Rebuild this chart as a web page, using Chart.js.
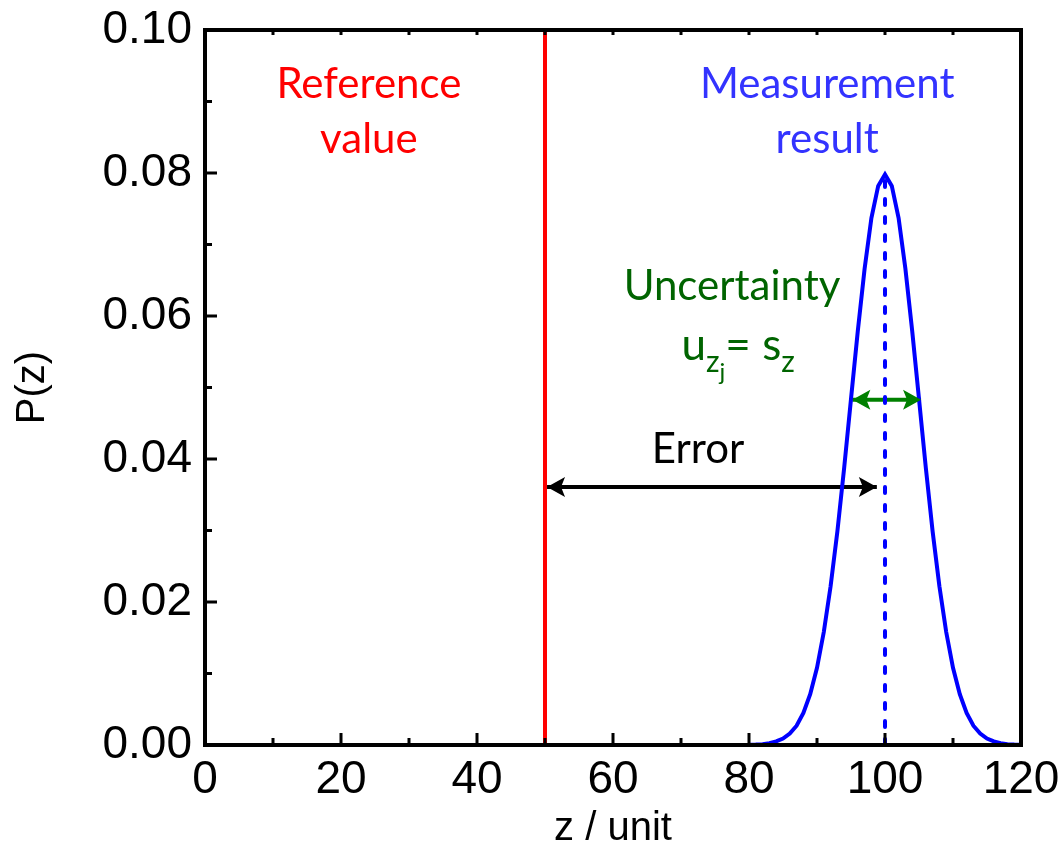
<!DOCTYPE html>
<html>
<head>
<meta charset="utf-8">
<script src="https://cdn.jsdelivr.net/npm/chart.js@4/dist/chart.umd.min.js"></script>
<style>
  html, body { margin: 0; padding: 0; background: #ffffff; }
  #wrap { width: 1063px; height: 853px; }
</style>
</head>
<body>
<div id="wrap"><canvas id="c" width="1063" height="853"></canvas></div>
<script>
// ---------- data ----------
const zValues = [80, 81, 82, 83, 84, 85, 86, 87, 88, 89, 90, 91, 92, 93, 94, 95, 96, 97, 98, 99, 100,
                 101, 102, 103, 104, 105, 106, 107, 108, 109, 110, 111, 112, 113, 114, 115, 116, 117, 118, 119, 120];
const pValues = [0.00003, 0.00006, 0.00012, 0.00025, 0.0005, 0.0009, 0.0016, 0.0027, 0.0045, 0.0071,
                 0.0108, 0.0158, 0.0222, 0.0299, 0.0388, 0.0484, 0.0579, 0.0666, 0.0737, 0.0782,
                 0.0798,
                 0.0782, 0.0737, 0.0666, 0.0579, 0.0484, 0.0388, 0.0299, 0.0222, 0.0158, 0.0108,
                 0.0071, 0.0045, 0.0027, 0.0016, 0.0009, 0.0005, 0.00025, 0.00012, 0.00006, 0.00003];
const referenceLineZ = [50, 50];
const referenceLineP = [0, 0.10];
const meanLineZ = [100, 100];
const meanLineP = [0, 0.0798];
const errorArrowZ = [50.3, 98.8];
const errorArrowP = [0.0361, 0.0361];
const uncertaintyArrowZ = [95.2, 105.3];
const uncertaintyArrowP = [0.0483, 0.0483];

const xTickValues = [0, 20, 40, 60, 80, 100, 120];
const xTickLabels = ['0', '20', '40', '60', '80', '100', '120'];
const xMinorTicks = [10, 30, 50, 70, 90, 110];
const yTickValues = [0, 0.02, 0.04, 0.06, 0.08, 0.10];
const yTickLabels = ['0.00', '0.02', '0.04', '0.06', '0.08', '0.10'];
const yMinorTicks = [0.01, 0.03, 0.05, 0.07, 0.09];

const xTitle = 'z / unit';
const yTitle = 'P(z)';

const toPts = (xs, ys) => xs.map((x, i) => ({ x: x, y: ys[i] }));

// ---------- annotation texts (data coordinates) ----------
const annotationTexts = [
  { text: 'Reference', z: 24.1, p: 0.0905, color: '#ff0000' },
  { text: 'value', z: 24.1, p: 0.0828, color: '#ff0000' },
  { text: 'Measurement', z: 91.5, p: 0.0905, color: '#3333ff' },
  { text: 'result', z: 91.5, p: 0.0828, color: '#3333ff' },
  { text: 'Uncertainty', z: 77.5, p: 0.0622, color: '#006400' },
  { text: 'Error', z: 72.5, p: 0.0394, color: '#000000' }
];
const formulaPos = { z: 78.4, p: 0.0538, color: '#006400' };

const TEXT_FONT = 'Lato, "Open Sans", sans-serif';

const framePlugin = {
  id: 'framePlugin',
  afterDatasetsDraw(chart) {
    const ctx = chart.ctx;
    const xs = chart.scales.x, ys = chart.scales.y;
    const a = chart.chartArea;
    ctx.save();

    // arrow heads
    chart.data.datasets.forEach((ds, i) => {
      if (!ds.arrowHeads) return;
      const pts = chart.getDatasetMeta(i).data;
      const drawHead = (tip, from) => {
        const ang = Math.atan2(tip.y - from.y, tip.x - from.x);
        const L = 18, W = 10, notch = 4;
        ctx.save();
        ctx.translate(tip.x, tip.y);
        ctx.rotate(ang);
        ctx.fillStyle = ds.borderColor;
        ctx.beginPath();
        ctx.moveTo(0, 0);
        ctx.lineTo(-L, -W);
        ctx.lineTo(-L + notch, 0);
        ctx.lineTo(-L, W);
        ctx.closePath();
        ctx.fill();
        ctx.restore();
      };
      drawHead(pts[0], pts[pts.length - 1]);
      drawHead(pts[pts.length - 1], pts[0]);
    });

    // frame
    ctx.strokeStyle = '#000000';
    ctx.lineWidth = 4;
    ctx.lineCap = 'square';
    ctx.strokeRect(a.left, a.top, a.right - a.left, a.bottom - a.top);

    // inward ticks
    ctx.lineWidth = 3;
    ctx.lineCap = 'butt';
    ctx.beginPath();
    xTickValues.forEach(v => {
      const px = xs.getPixelForValue(v);
      if (v > 0 && v < 120) { ctx.moveTo(px, a.bottom); ctx.lineTo(px, a.bottom - 12); }
    });
    xMinorTicks.forEach(v => {
      const px = xs.getPixelForValue(v);
      ctx.moveTo(px, a.bottom); ctx.lineTo(px, a.bottom - 7);
    });
    xTickValues.concat(xMinorTicks).forEach(v => {
      const px = xs.getPixelForValue(v);
      if (v > 0 && v < 120) { ctx.moveTo(px, a.top); ctx.lineTo(px, a.top + 5); }
    });
    yTickValues.forEach(v => {
      const py = ys.getPixelForValue(v);
      if (v > 0 && v < 0.1) { ctx.moveTo(a.left, py); ctx.lineTo(a.left + 12, py); }
    });
    yMinorTicks.forEach(v => {
      const py = ys.getPixelForValue(v);
      ctx.moveTo(a.left, py); ctx.lineTo(a.left + 7, py);
    });
    ctx.stroke();

    // texts
    ctx.textAlign = 'center';
    ctx.textBaseline = 'alphabetic';
    ctx.font = '42px ' + TEXT_FONT;
    annotationTexts.forEach(t => {
      ctx.fillStyle = t.color;
      ctx.fillText(t.text, xs.getPixelForValue(t.z), ys.getPixelForValue(t.p));
    });

    // formula  u_{z_j} = s_z
    const parts = [
      { s: 'u', size: 44, dy: 0 },
      { s: 'z', size: 30, dy: 12 },
      { s: 'j', size: 24, dy: 20 },
      { s: '= s', size: 44, dy: 0 },
      { s: 'z', size: 30, dy: 12 }
    ];
    let total = 0;
    parts.forEach(p => { ctx.font = p.size + 'px ' + TEXT_FONT; p.w = ctx.measureText(p.s).width; total += p.w; });
    let cx = xs.getPixelForValue(formulaPos.z) - total / 2;
    const by = ys.getPixelForValue(formulaPos.p);
    ctx.textAlign = 'left';
    ctx.fillStyle = formulaPos.color;
    parts.forEach(p => {
      ctx.font = p.size + 'px ' + TEXT_FONT;
      ctx.fillText(p.s, cx, by + p.dy);
      cx += p.w;
    });
    ctx.restore();
  }
};

const tickFont = { family: '"Liberation Sans", Arial, sans-serif', size: 46 };
const titleFont = { family: '"Liberation Sans", Arial, sans-serif', size: 40 };

new Chart(document.getElementById('c'), {
  type: 'line',
  data: {
    datasets: [
      { label: 'P(z)', data: toPts(zValues, pValues), borderColor: '#0000ff', borderWidth: 4,
        pointRadius: 0, tension: 0, fill: false },
      { label: 'Reference value', data: toPts(referenceLineZ, referenceLineP), borderColor: '#ff0000',
        borderWidth: 4, pointRadius: 0, fill: false },
      { label: 'Measurement result', data: toPts(meanLineZ, meanLineP), borderColor: '#0000ff',
        borderWidth: 4, borderDash: [6, 12], borderCapStyle: 'round', pointRadius: 0, fill: false },
      { label: 'Error', data: toPts(errorArrowZ, errorArrowP), borderColor: '#000000',
        borderWidth: 4, pointRadius: 0, fill: false, arrowHeads: true },
      { label: 'Uncertainty', data: toPts(uncertaintyArrowZ, uncertaintyArrowP), borderColor: '#008000',
        borderWidth: 4, pointRadius: 0, fill: false, arrowHeads: true }
    ]
  },
  options: {
    responsive: false,
    devicePixelRatio: 1,
    animation: false,
    layout: { padding: { left: 0, top: 30, right: 42, bottom: 0 } },
    plugins: { legend: { display: false }, tooltip: { enabled: false } },
    scales: {
      x: {
        type: 'linear', min: 0, max: 120,
        afterBuildTicks: s => { s.ticks = xTickValues.map(v => ({ value: v })); },
        afterFit: s => { s.height = 108; s.paddingLeft = 0; s.paddingRight = 0; },
        grid: { display: false, drawTicks: false },
        border: { display: false },
        ticks: { font: tickFont, color: '#000000', padding: 8, maxRotation: 0,
                 callback: (v) => xTickLabels[xTickValues.indexOf(v)] },
        title: { display: true, text: xTitle, font: titleFont, color: '#000000', padding: { top: 0, bottom: 0 } }
      },
      y: {
        type: 'linear', min: 0, max: 0.1,
        afterBuildTicks: s => { s.ticks = yTickValues.map(v => ({ value: v })); },
        afterFit: s => { s.width = 205; s.paddingTop = 0; s.paddingBottom = 0; },
        grid: { display: false, drawTicks: false },
        border: { display: false },
        ticks: { font: tickFont, color: '#000000', padding: 13,
                 callback: (v) => { const i = yTickValues.findIndex(t => Math.abs(t - v) < 1e-9); return yTickLabels[i]; } },
        title: { display: true, text: yTitle, font: titleFont, color: '#000000', padding: { top: 9, bottom: 0 } }
      }
    }
  },
  plugins: [framePlugin]
});
</script>
</body>
</html>
